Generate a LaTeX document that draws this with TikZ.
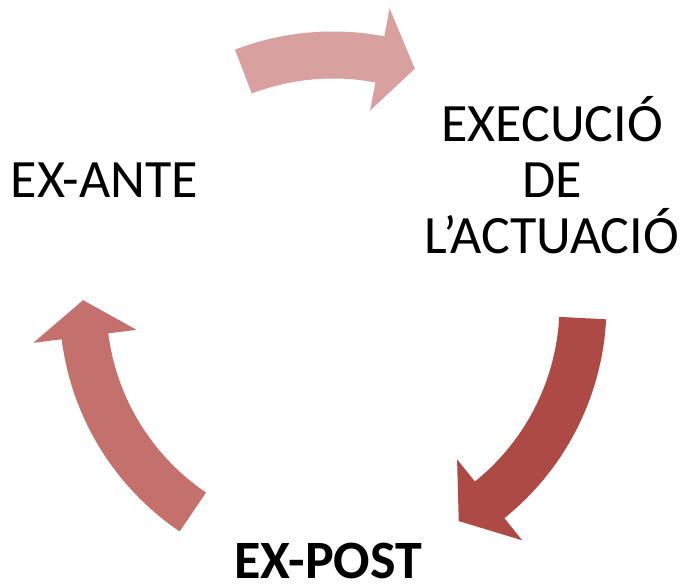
\documentclass[tikz,border=0pt]{standalone}
\usepackage{fontspec}
\setmainfont{Carlito}
\definecolor{arrowtop}{RGB}{217,160,160}
\definecolor{arrowright}{RGB}{173,74,70}
\definecolor{arrowleft}{RGB}{196,113,110}
% radii of the cycle
\newcommand{\rin}{226.5}
\newcommand{\rout}{273.5}
\newcommand{\rmid}{250}
\newcommand{\rheadin}{198}
\newcommand{\rheadout}{302}
% tail angle, head base angle, tip angle, colour
\newcommand{\cyclearrow}[4]{%
  \fill[#4] (#1:\rout) arc[start angle=#1, end angle=#2, radius=\rout]
    -- (#2:\rheadout) -- (#3:\rmid) -- (#2:\rheadin) -- (#2:\rin)
    arc[start angle=#2, end angle=#1, radius=\rin] -- cycle;}
\begin{document}
\begin{tikzpicture}[x=1pt,y=1pt]
  \tikzstyle{lbl}=[inner sep=0,font=\fontsize{54}{56}\selectfont,align=center]
  \useasboundingbox (0,0) rectangle (683,585);

  \begin{scope}[shift={(333,280)}]
    \cyclearrow{111}{79.2}{70.9}{arrowtop}
    \cyclearrow{-3}{-51.2}{-59.8}{arrowright}
    \cyclearrow{235.9}{187.2}{178.9}{arrowleft}
  \end{scope}

  \node[lbl,anchor=base] (exante) at (104.5,387) {EX-ANTE};
  \node[lbl] (execucio) at (552,410) {EXECUCIÓ\\DE\\L’ACTUACIÓ};
  \node[lbl,anchor=base,font=\fontsize{54}{56}\selectfont\bfseries] (expost) at (328,6) {EX-POST};
\end{tikzpicture}
\end{document}
